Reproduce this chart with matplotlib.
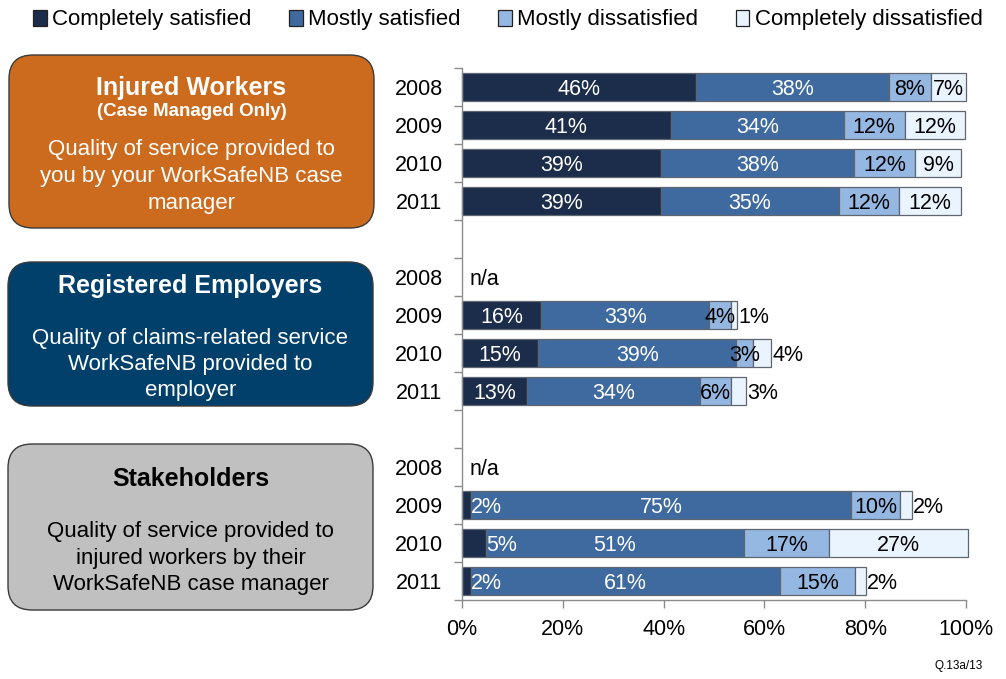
import numpy as np
import matplotlib
matplotlib.use("Agg")
import matplotlib.pyplot as plt
from matplotlib.patches import FancyBboxPatch, Patch

plt.rcParams['font.family'] = ['Liberation Sans', 'DejaVu Sans']

# ---------------- data ----------------
series = ["Completely satisfied", "Mostly satisfied", "Mostly dissatisfied", "Completely dissatisfied"]
years = ["2008", "2009", "2010", "2011"]
groups = ["Injured Workers", "Registered Employers", "Stakeholders"]

# values per group, per year (NaN = n/a)
nan = np.nan
completely_satisfied = [[46.4, 41.4, 39.4, 39.4], [nan, 15.7, 15.1, 12.9], [nan, 1.8, 4.8, 1.8]]
mostly_satisfied = [[38.4, 34.4, 38.4, 35.4], [nan, 33.4, 39.3, 34.3], [nan, 75.3, 51.1, 61.3]]
mostly_dissatisfied = [[8.2, 12.0, 12.1, 12.0], [nan, 4.2, 3.3, 6.2], [nan, 9.9, 17.0, 14.9]]
completely_dissatisfied = [[7.0, 12.1, 9.1, 12.2], [nan, 1.2, 3.6, 2.9], [nan, 2.2, 27.4, 2.1]]

x_ticks = [0, 20, 40, 60, 80, 100]
x_tick_labels = ["0%", "20%", "40%", "60%", "80%", "100%"]

colors = ["#1B2D4A", "#3F6AA0", "#95B8E3", "#EAF4FF"]
label_colors = ["white", "white", "black", "black"]

# ---------------- figure ----------------
W, H = 1006, 679
fig = plt.figure(figsize=(W / 100, H / 100), dpi=100)

ax_left, ax_right, ax_top, ax_bot = 462, 966, 68, 600
ax = fig.add_axes([ax_left / W, 1 - ax_bot / H, (ax_right - ax_left) / W, (ax_bot - ax_top) / H])

all_series = [completely_satisfied, mostly_satisfied, mostly_dissatisfied, completely_dissatisfied]

# rows: each group 4 years, separated by a blank row
rows = []
for g in range(len(groups)):
    for y in range(len(years)):
        rows.append((g, y))
row_pos = [g * 5 + y for (g, y) in rows]
n_rows = 14

FS = 15.5
for s in range(4):
    vals = np.array([all_series[s][g][y] for (g, y) in rows], dtype=float)
    lefts = np.zeros(len(rows))
    for k in range(s):
        lefts += np.nan_to_num(np.array([all_series[k][g][y] for (g, y) in rows], dtype=float))
    valid = ~np.isnan(vals)
    pos_v = np.array(row_pos)[valid]
    bars = ax.barh(pos_v, vals[valid], left=lefts[valid], height=0.74, color=colors[s],
                   edgecolor="#5F6670", linewidth=0.9, label=series[s])
    for b in bars:
        b.set_clip_on(False)
    for v, l, p in zip(vals, lefts, row_pos):
        if np.isnan(v):
            continue
        txt = f"{int(round(v))}%"
        if s == 0 and v < 6:
            ax.text(l + v, p, txt, ha="left", va="center_baseline", color="white", fontsize=FS)
        elif s == 3 and v < 5:
            ax.text(l + v + 0.3, p, txt, ha="left", va="center_baseline", color="black", fontsize=FS)
        else:
            ax.text(l + v / 2, p, txt, ha="center", va="center_baseline", color=label_colors[s], fontsize=FS)

# n/a rows
for (g, y), p in zip(rows, row_pos):
    if np.isnan(all_series[0][g][y]):
        ax.text(1.5, p, "n/a", ha="left", va="center_baseline", color="black", fontsize=FS)

ax.set_xlim(0, 100)
ax.set_ylim(n_rows - 0.5, -0.5)
ax.set_xticks(x_ticks)
ax.set_xticklabels(x_tick_labels, fontsize=FS)
ax.set_yticks(row_pos)
ax.set_yticklabels([years[y] for (g, y) in rows], fontsize=FS)
ax.tick_params(axis="y", length=0, pad=14)
ax.set_yticks(np.arange(-0.5, n_rows, 1.0), minor=True)
ax.tick_params(axis="y", which="minor", length=6, color="#8C8C8C", width=1)
ax.tick_params(axis="x", length=6, color="#8C8C8C", width=1, pad=8)
for sp in ["top", "right"]:
    ax.spines[sp].set_visible(False)
for sp in ["left", "bottom"]:
    ax.spines[sp].set_color("#8C8C8C")
    ax.spines[sp].set_linewidth(1)

# legend
leg_handles = [Patch(facecolor=c, edgecolor="#222222", linewidth=0.9) for c in colors]
fig.legend(leg_handles, series, loc="center", bbox_to_anchor=(508 / W, 1 - 20 / H), ncol=4,
           frameon=False, fontsize=16, handlelength=0.6, handleheight=0.75,
           handletextpad=0.25, columnspacing=1.7, borderaxespad=0)

# overlay for boxes
ov = fig.add_axes([0, 0, 1, 1], zorder=-1)
ov.set_xlim(0, W)
ov.set_ylim(H, 0)
ov.axis("off")

boxes = [
    (9, 55, 374, 228, "#CC6B1E", "white",
     [("Injured Workers", 85, 18, "bold"), ("(Case Managed Only)", 109, 13.5, "bold"),
      ("Quality of service provided to", 147, 16, "normal"),
      ("you by your WorkSafeNB case", 174, 16, "normal"),
      ("manager", 201, 16, "normal")]),
    (8, 262, 373, 406, "#02406C", "white",
     [("Registered Employers", 284, 18, "bold"),
      ("Quality of claims-related service", 336, 16, "normal"),
      ("WorkSafeNB provided to", 362, 16, "normal"),
      ("employer", 388, 16, "normal")]),
    (8, 444, 373, 610, "#C0C0C0", "black",
     [("Stakeholders", 477, 18, "bold"),
      ("Quality of service provided to", 529, 16, "normal"),
      ("injured workers by their", 556, 16, "normal"),
      ("WorkSafeNB case manager", 582, 16, "normal")]),
]
for (x0, y0, x1, y1, fc, tc, lines) in boxes:
    r = 24
    patch = FancyBboxPatch((x0 + r, y0 + r), (x1 - x0) - 2 * r, (y1 - y0) - 2 * r,
                           boxstyle=f"round,pad={r},rounding_size={r}",
                           facecolor=fc, edgecolor="#3A3A3A", linewidth=1.0)
    ov.add_patch(patch)
    cx = (x0 + x1) / 2
    for (t, yy, fs, fw) in lines:
        ov.text(cx, yy, t, ha="center", va="center_baseline", color=tc, fontsize=fs, fontweight=fw)

fig.text(983 / W, 1 - 666 / H, "Q.13a/13", ha="right", va="center", fontsize=8.5, color="black")

fig.savefig("out.png", dpi=100)
